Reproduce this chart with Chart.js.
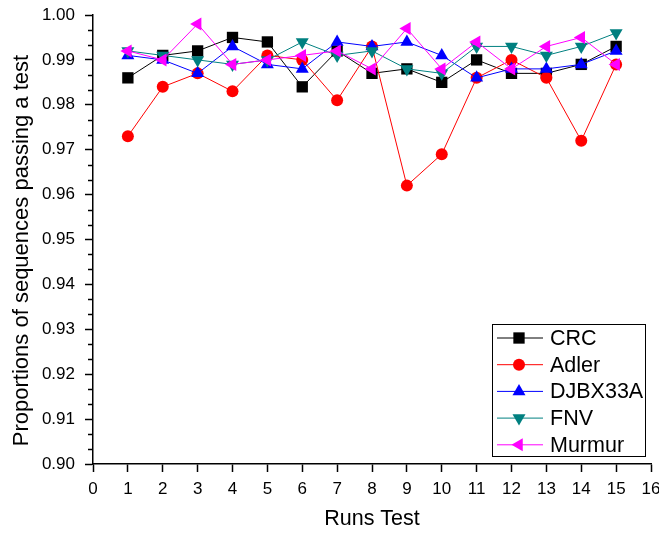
<!DOCTYPE html>
<html>
<head>
<meta charset="utf-8">
<script src="https://cdn.jsdelivr.net/npm/chart.js@4/dist/chart.umd.min.js"></script>
<style>
  html, body { margin: 0; padding: 0; background: #fff; }
  #wrap { width: 659px; height: 533px; }
</style>
</head>
<body>
<div id="wrap"><canvas id="chart"></canvas></div>
<script>
const runs = [1, 2, 3, 4, 5, 6, 7, 8, 9, 10, 11, 12, 13, 14, 15];
const crc    = [0.986, 0.991, 0.992, 0.995, 0.994, 0.984, 0.992, 0.987, 0.988, 0.985, 0.990, 0.987, 0.987, 0.989, 0.993];
const adler  = [0.973, 0.984, 0.987, 0.983, 0.991, 0.990, 0.981, 0.993, 0.962, 0.969, 0.986, 0.990, 0.986, 0.972, 0.989];
const djbx   = [0.991, 0.990, 0.987, 0.993, 0.989, 0.988, 0.994, 0.993, 0.994, 0.991, 0.986, 0.988, 0.988, 0.989, 0.992];
const fnv    = [0.992, 0.991, 0.990, 0.989, 0.990, 0.994, 0.991, 0.992, 0.988, 0.987, 0.993, 0.993, 0.991, 0.993, 0.996];
const murmur = [0.992, 0.990, 0.998, 0.989, 0.990, 0.991, 0.992, 0.988, 0.997, 0.988, 0.994, 0.988, 0.993, 0.995, 0.989];

const FONT = '"Liberation Sans", Arial, sans-serif';
const Y_TITLE = 'Proportions of sequences passing a test';

function series(label, values, color, style, rotation, radius, order) {
    return {
        label: label,
        data: runs.map((r, i) => ({ x: r, y: values[i] })),
        borderColor: color,
        backgroundColor: color,
        borderWidth: 1,
        pointStyle: style,
        pointRotation: rotation,
        pointRadius: radius,
        pointHoverRadius: radius,
        pointBorderWidth: 0,
        order: order
    };
}

// minor ticks on the y axis (two between every labelled tick) + the y title
const yExtras = {
    id: 'yExtras',
    afterDraw(chart) {
        const y = chart.scales.y;
        const ctx = chart.ctx;
        ctx.save();
        ctx.strokeStyle = '#000';
        ctx.lineWidth = 1.5;
        for (let k = 0; k <= 30; k++) {
            if (k % 3 === 0) continue;
            const py = Math.round(y.getPixelForValue(0.90 + k * 0.01 / 3)) + 0.5;
            ctx.beginPath();
            ctx.moveTo(y.right, py);
            ctx.lineTo(y.right - 5, py);
            ctx.stroke();
        }
        // Origin put the title a little below the middle of the axis
        ctx.translate(22, (y.top + y.bottom) / 2 + 11);
        ctx.rotate(-Math.PI / 2);
        ctx.fillStyle = '#000';
        ctx.font = '22px ' + FONT;
        ctx.textAlign = 'center';
        ctx.textBaseline = 'middle';
        ctx.fillText(Y_TITLE, 0, 0);
        ctx.restore();
    }
};

// boxed legend inside the lower right corner of the plot
const boxLegend = {
    id: 'boxLegend',
    afterDraw(chart) {
        const ctx = chart.ctx;
        const area = chart.chartArea;
        const w = 153, h = 132;
        const left = area.right - 6 - w;
        const top = area.bottom - 8 - h;
        ctx.save();
        ctx.fillStyle = '#fff';
        ctx.fillRect(left, top, w, h);
        ctx.strokeStyle = '#000';
        ctx.lineWidth = 1;
        ctx.strokeRect(left + 0.5, top + 0.5, w, h);
        ctx.font = '21.5px ' + FONT;
        ctx.textBaseline = 'middle';
        chart.data.datasets.forEach((ds, i) => {
            const cy = top + 14 + i * 26.7;
            ctx.strokeStyle = ds.borderColor;
            ctx.lineWidth = 1;
            ctx.beginPath();
            ctx.moveTo(left + 5, cy);
            ctx.lineTo(left + 51, cy);
            ctx.stroke();
            ctx.fillStyle = ds.backgroundColor;
            Chart.helpers.drawPoint(ctx, {
                pointStyle: ds.pointStyle,
                rotation: ds.pointRotation,
                radius: ds.pointRadius,
                borderWidth: 0
            }, left + 27, cy);
            ctx.fillStyle = '#000';
            ctx.fillText(ds.label, left + 58, cy + 1);
        });
        ctx.restore();
    }
};

new Chart(document.getElementById('chart'), {
    type: 'line',
    data: {
        datasets: [
            series('CRC', crc, '#000000', 'rect', 0, 8, 5),
            series('Adler', adler, '#ff0000', 'circle', 0, 6, 4),
            series('DJBX33A', djbx, '#0000ff', 'triangle', 0, 7.5, 3),
            series('FNV', fnv, '#008080', 'triangle', 180, 7.5, 2),
            series('Murmur', murmur, '#ff00ff', 'triangle', 270, 7.5, 1)
        ]
    },
    options: {
        responsive: true,
        maintainAspectRatio: false,
        animation: false,
        layout: { padding: { top: 15, right: 8, left: 0, bottom: 0 } },
        plugins: {
            legend: { display: false },
            tooltip: { enabled: false }
        },
        scales: {
            x: {
                type: 'linear',
                min: 0,
                max: 16,
                afterFit: s => { s.height = 69; s.paddingLeft = 0; s.paddingRight = 0; },
                border: { display: true, color: '#000', width: 1.5 },
                grid: { display: true, drawOnChartArea: false, drawTicks: true, tickLength: 8, color: '#000', tickWidth: 1.5 },
                ticks: { stepSize: 1, color: '#000', font: { family: FONT, size: 17 }, padding: 7, maxRotation: 0, autoSkip: false },
                title: { display: true, text: 'Runs Test', color: '#000', font: { family: FONT, size: 21.5 }, padding: { top: 16, bottom: 1 } }
            },
            y: {
                min: 0.90,
                max: 1.00,
                afterFit: s => { s.width = 93; s.paddingTop = 0; s.paddingBottom = 0; },
                border: { display: true, color: '#000', width: 1.5 },
                grid: { display: true, drawOnChartArea: false, drawTicks: true, tickLength: 8, color: '#000', tickWidth: 1.5 },
                ticks: { stepSize: 0.01, color: '#000', font: { family: FONT, size: 17 }, padding: 10,
                    callback: v => v.toFixed(2) },
                title: { display: false }
            }
        }
    },
    plugins: [yExtras, boxLegend]
});
</script>
</body>
</html>
